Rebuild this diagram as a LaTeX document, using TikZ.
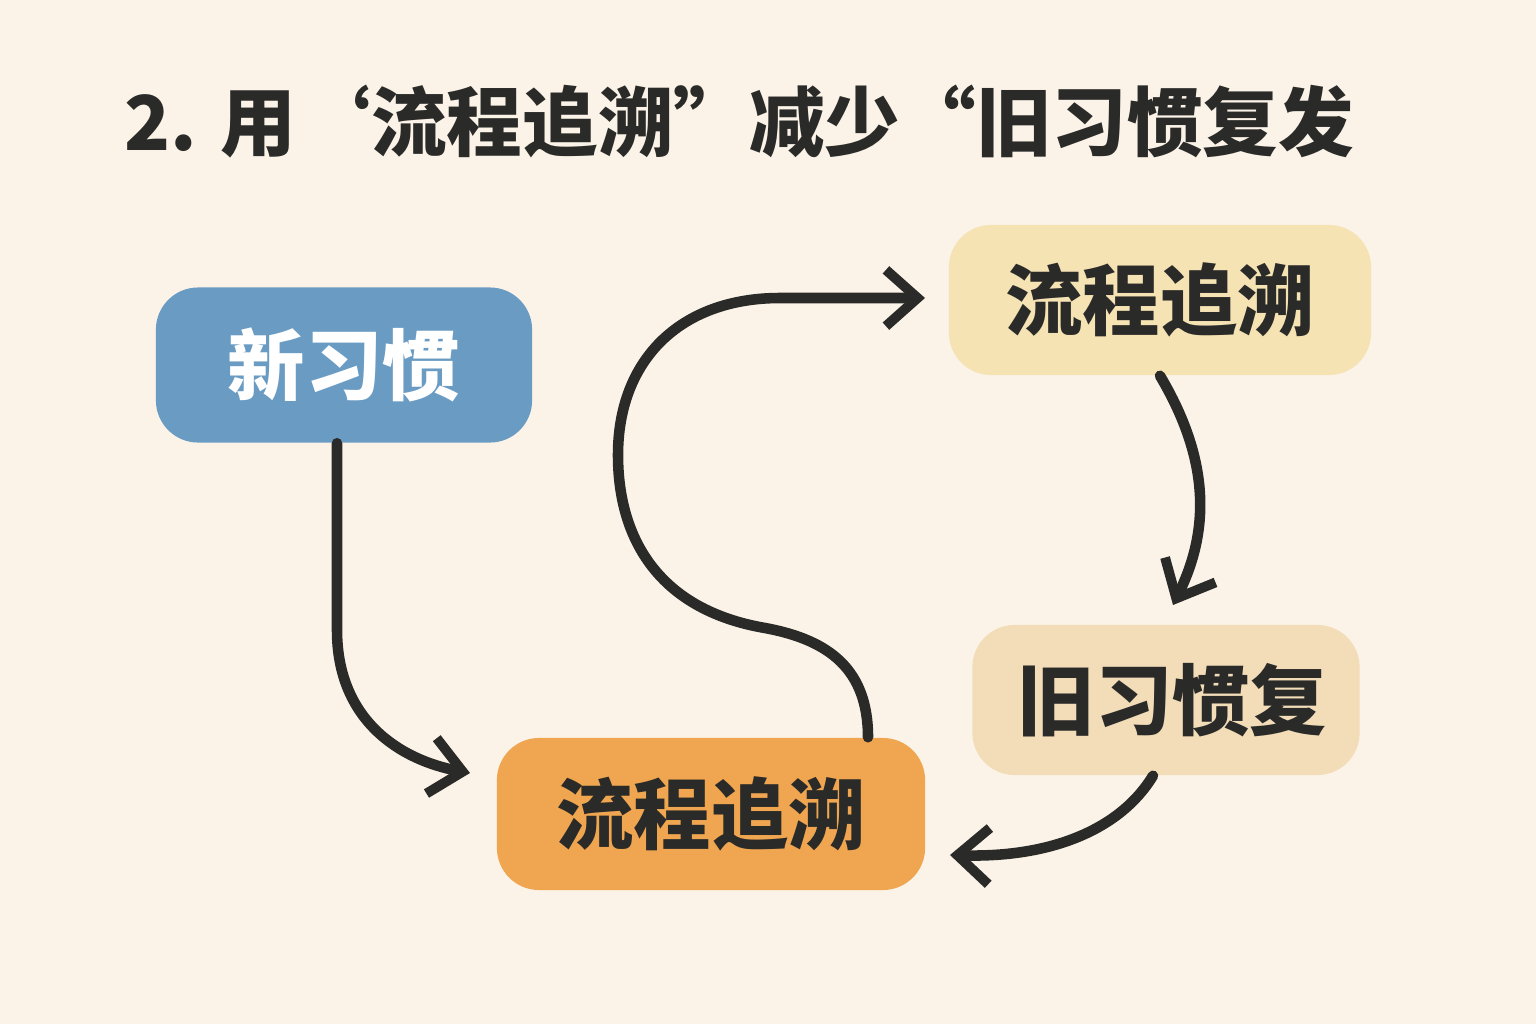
\documentclass[tikz,border=0pt]{standalone}
\usepackage{fontspec}
\setmainfont{Noto Sans CJK SC}
\usetikzlibrary{arrows.meta,positioning,calc}
\definecolor{bgcream}{HTML}{FBF3E8}
\definecolor{newblue}{HTML}{6A9BC3}
\definecolor{tracepale}{HTML}{F6E3B4}
\definecolor{oldpale}{HTML}{F3DDB9}
\definecolor{traceorange}{HTML}{F0A650}
\definecolor{inkdark}{HTML}{2A2A28}

\begin{document}
\begin{tikzpicture}[x=0.01cm, y=-0.01cm, >={Straight Barb[length=9pt,width=16pt,line width=2.8pt]},
  flowarrow/.style={->, draw=inkdark, line width=3pt, line cap=round},
  habitbox/.style={rounded corners=12pt, inner sep=0pt, font=\bfseries\fontsize{22}{26}\selectfont}]
\fill[bgcream] (0,0) rectangle (1536,1024);
\useasboundingbox (0,0) rectangle (1536,1024);
% title
\node[anchor=west, text=inkdark, font=\bfseries\fontsize{21.5}{26}\selectfont] (title) at (112,122) {2. 用‘流程追溯”减少“旧习惯复发};
% boxes
\node[habitbox, fill=newblue, text=white, minimum width=3.76cm, minimum height=1.55cm] (newhabit) at (344,365) {新习惯};
\node[habitbox, fill=tracepale, text=inkdark, minimum width=4.22cm, minimum height=1.50cm] (tracetop) at (1160,300) {流程追溯};
\node[habitbox, fill=oldpale, text=inkdark, minimum width=3.87cm, minimum height=1.50cm] (oldhabit) at (1166,700) {\,旧习惯复};
\node[habitbox, fill=traceorange, text=inkdark, minimum width=4.28cm, minimum height=1.52cm] (tracebot) at (711,814) {流程追溯};
% connector ends
\coordinate (a1) at (470,773);
\coordinate (a2) at (925,298);
\coordinate (a3) at (1173,605);
\coordinate (a4) at (950,855);
% connectors
\draw[flowarrow] (newhabit.south -| 337,0) -- (337,630) .. controls (337,720) and (400,760) .. (a1);
\draw[flowarrow] (tracebot.north -| 868,0) .. controls (868,670) and (830,640) .. (765,628)
  .. controls (660,610) and (618,540) .. (618,455)
  .. controls (618,360) and (680,298) .. (780,298) -- (a2);
\draw[flowarrow] (tracetop.south -| 1160,0) .. controls (1210,460) and (1210,530) .. (a3);
\draw[flowarrow] (oldhabit.south -| 1153,0) .. controls (1120,830) and (1050,858) .. (a4);
\end{tikzpicture}
\end{document}
